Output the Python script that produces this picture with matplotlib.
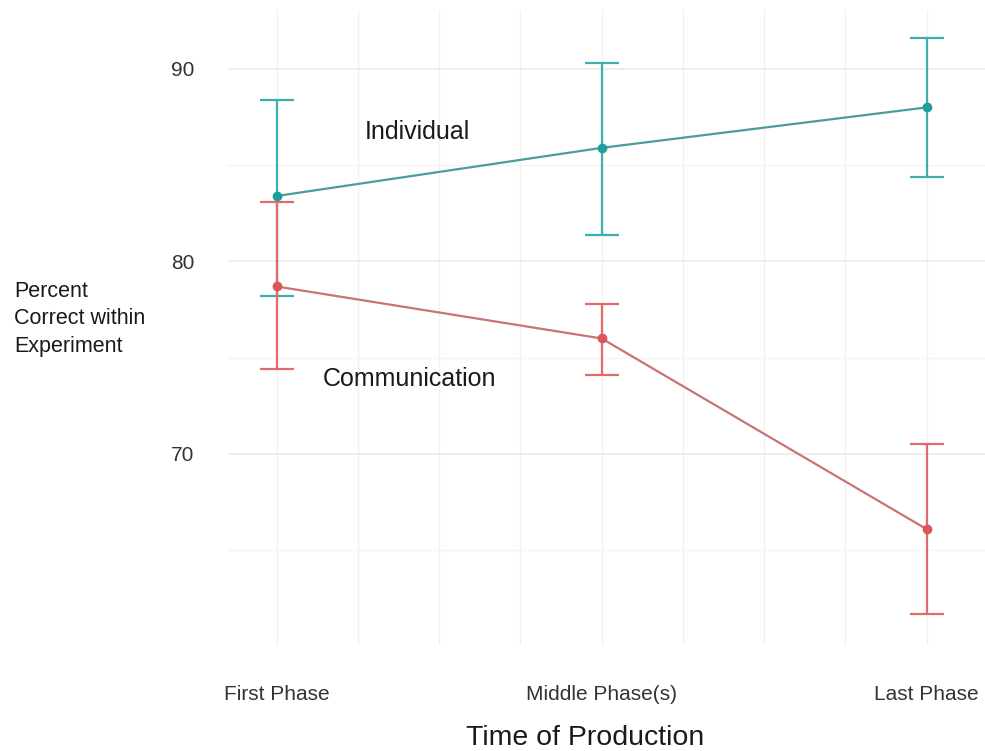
import matplotlib
matplotlib.use("Agg")
import matplotlib.pyplot as plt
import numpy as np

plt.rcParams['font.family'] = ['Liberation Sans', 'DejaVu Sans']

phases = ["First Phase", "Middle Phase(s)", "Last Phase"]
individual_mean = [83.4, 85.9, 88.0]
individual_low = [78.2, 81.4, 84.4]
individual_high = [88.4, 90.3, 91.6]
communication_mean = [78.7, 76.0, 66.1]
communication_low = [74.4, 74.1, 61.7]
communication_high = [83.1, 77.8, 70.5]
y_ticks = [70, 80, 90]
y_minor = [65, 75, 85]

TEAL_BAR = '#3BB0B0'
TEAL_LINE = '#4B9C9C'
TEAL_PT = '#1E9E9E'
RED_BAR = '#E26A6A'
RED_LINE = '#C97474'
RED_PT = '#D9575A'

fig = plt.figure(figsize=(9.85, 7.51), dpi=100)
ax = fig.add_axes([228/985, (751-645)/751, (985-228)/985, 635/751])

x = np.arange(1, len(phases) + 1)

# grid
for v in np.arange(1, 3.01, 0.25):
    ax.axvline(v, color='#F1F1F1', lw=1.0, zorder=0)
for v in y_ticks:
    ax.axhline(v, color='#EBEBEB', lw=1.2, zorder=0)
for v in y_minor:
    ax.axhline(v, color='#F4F4F4', lw=1.0, zorder=0)

def draw(mean, low, high, cbar, cline, cpt):
    mean = np.array(mean); low = np.array(low); high = np.array(high)
    ax.errorbar(x, mean, yerr=[mean - low, high - mean], fmt='none',
                ecolor=cbar, elinewidth=1.6, capsize=12, capthick=1.6, zorder=2)
    ax.plot(x, mean, color=cline, lw=1.6, zorder=3)
    ax.plot(x, mean, 'o', color=cpt, ms=6, zorder=4)

draw(individual_mean, individual_low, individual_high, TEAL_BAR, TEAL_LINE, TEAL_PT)
draw(communication_mean, communication_low, communication_high, RED_BAR, RED_LINE, RED_PT)

ax.text(1.434, 86.73, "Individual", fontsize=18, color='#1A1A1A', ha='center', va='center')
ax.text(1.41, 73.92, "Communication", fontsize=18, color='#1A1A1A', ha='center', va='center')

ax.set_xlim(0.85, 3.18)
ax.set_ylim(60.08, 93.06)
ax.set_xticks(x)
ax.set_xticklabels(phases, fontsize=15, color='#333333')
ax.set_yticks(y_ticks)
ax.set_yticklabels([str(v) for v in y_ticks], fontsize=15, color='#333333')
ax.tick_params(axis='both', length=0)
ax.tick_params(axis='x', pad=29)
ax.tick_params(axis='y', pad=24)
for s in ax.spines.values():
    s.set_visible(False)

fig.text(14/985, 1 - 319/751, "Percent\nCorrect within\nExperiment", fontsize=15.5,
         color='#1A1A1A', ha='left', va='center', multialignment='left', linespacing=1.4)
fig.text(585/985, 1 - 738/751, "Time of Production", fontsize=20.5, color='#1A1A1A',
         ha='center', va='center')

fig.savefig("out.png", dpi=100)
